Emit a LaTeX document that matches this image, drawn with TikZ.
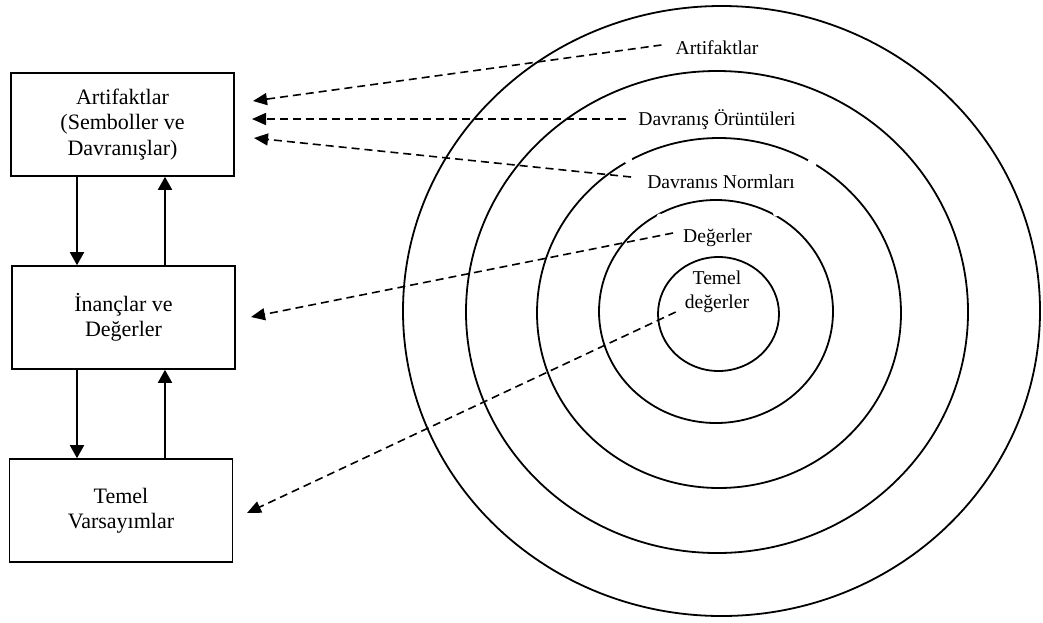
\documentclass[tikz,border=0pt]{standalone}
\usepackage{fontspec}
\setmainfont{Liberation Serif}
\usetikzlibrary{arrows.meta,calc}
\begin{document}
\begin{tikzpicture}[x=1pt,y=-1pt,
  box/.style={draw,line width=1.6pt,minimum width=223pt,minimum height=103pt,align=center,
    font=\fontsize{22}{25.5}\selectfont,inner sep=0pt},
  lab/.style={font=\fontsize{19.6}{24}\selectfont,inner sep=0pt,anchor=base},
  ring/.style={line width=1.8pt},
  flow/.style={line width=1.8pt,-{Triangle[length=13pt,width=14pt]}},
  ptr/.style={line width=1.6pt,dash pattern=on 8pt off 5pt,-{Triangle[length=14pt,width=12pt]}}]
\useasboundingbox (0,0) rectangle (1043,622);
% rings
\draw[ring] (721.5,311) ellipse [x radius=318.5pt,y radius=305pt];
\draw[ring] (717,312) ellipse [x radius=251pt,y radius=241pt];
\draw[ring] (719,313) ellipse [x radius=182pt,y radius=175pt];
\draw[ring] (716,311.5) ellipse [x radius=117pt,y radius=111.5pt];
\draw[ring] (718.5,314) ellipse [x radius=60.5pt,y radius=57pt];
% small breaks in rings
\fill[white] (628.5,160.5) circle[radius=4pt];
\fill[white] (812,163) circle[radius=5pt];
\fill[white] (660,217) circle[radius=3.5pt];
\fill[white] (776,213.5) circle[radius=3pt];
% boxes
\node[box] (b1) at (122.5,124.5) {Artifaktlar\\(Semboller ve\\Davranışlar)};
\node[box] (b2) at (123.5,317.5) {İnançlar ve\\Değerler};
\node[box] (b3) at (121,510.5) {Temel\\Varsayımlar};
\coordinate (xd) at (77,0);
\coordinate (xu) at (165,0);
\draw[flow] (b1.south -| xd) -- (b2.north -| xd);
\draw[flow] (b2.north -| xu) -- (b1.south -| xu);
\draw[flow] (b2.south -| xd) -- (b3.north -| xd);
\draw[flow] (b3.north -| xu) -- (b2.south -| xu);
% labels
\node[lab] (l1) at (717,54) {Artifaktlar};
\node[lab] (l2) at (717,125) {Davranış Örüntüleri};
\node[lab] (l3) at (721,188) {Davranıs Normları};
\node[lab] (l4) at (717.5,242) {Değerler};
\node[lab,align=center] (l5) at (717,308) {Temel\\değerler};
% pointer ends
\coordinate (t1) at (253,101);
\coordinate (t2) at (252,119);
\coordinate (t3) at (254,138);
\coordinate (t4) at (251,317);
\coordinate (t5) at (247,513);
\draw[ptr] ($(l1.base west)+(-14,-9)$) -- (t1);
\draw[ptr] ($(l2.base west)+(-12,-6)$) -- (t2);
\draw[ptr] ($(l3.base west)+(-16,-11)$) -- (t3);
\draw[ptr] ($(l4.base west)+(-10,-9)$) -- (t4);
\draw[ptr] ($(l5.base west)+(-9,4)$) -- (t5);
\end{tikzpicture}
\end{document}
